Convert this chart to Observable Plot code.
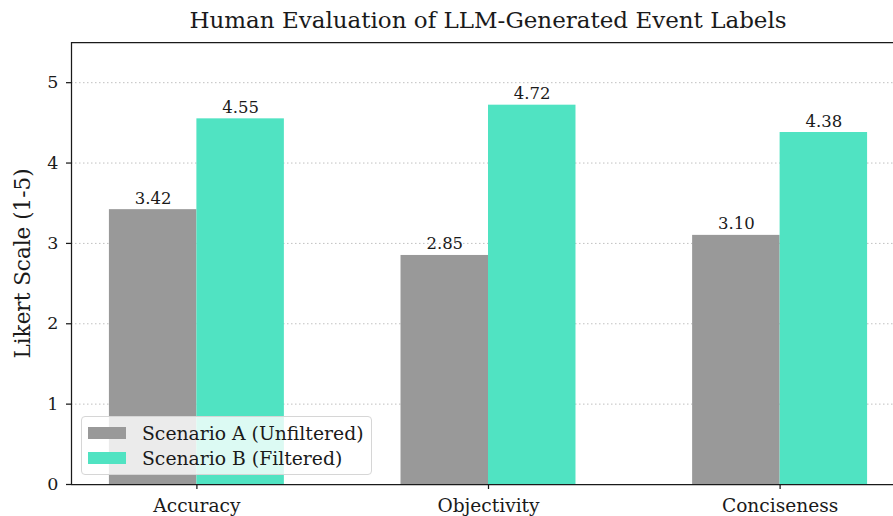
<!DOCTYPE html>
<html><head><meta charset="utf-8">
<script src="https://cdn.jsdelivr.net/npm/d3@7"></script>
<script src="https://cdn.jsdelivr.net/npm/@observablehq/plot@0.6"></script>
<style>
html,body{margin:0;padding:0;background:#fff;overflow:hidden;}
#wrap{position:relative;width:893px;height:516px;font-family:"DejaVu Serif";color:#1a1a1a;}
#title{position:absolute;left:0;width:976px;top:7px;text-align:center;font-size:23px;line-height:26px;white-space:nowrap;}
#legend{position:absolute;left:81px;top:416px;width:291px;height:59px;box-sizing:border-box;background:rgba(255,255,255,0.8);border:1px solid #d6d6d6;border-radius:4px;font-size:18.8px;}
.row{position:absolute;left:0;height:20px;display:flex;align-items:center;white-space:nowrap;}
.sw{display:inline-block;width:38px;height:12px;margin-left:6px;margin-right:16px;}
svg{position:absolute;left:0;top:0;}
</style>
</head><body>
<div id="wrap"><div id="title"></div></div>
<script>
const title = "Human Evaluation of LLM-Generated Event Labels";
const categories = ["Accuracy", "Objectivity", "Conciseness"];
const seriesNames = ["Scenario A (Unfiltered)", "Scenario B (Filtered)"];
const scenarioA = [3.42, 2.85, 3.10];
const scenarioB = [4.55, 4.72, 4.38];
const colors = ["#999999", "#50e3c2"];
const yTicks = [0, 1, 2, 3, 4, 5];
const yLabel = "Likert Scale (1-5)";

const barW = 0.3;
const rows = categories.flatMap((c, i) => [
  {i, s: 0, v: scenarioA[i]},
  {i, s: 1, v: scenarioB[i]}
]).map(d => ({...d, x1: d.i + (d.s - 1) * barW, x2: d.i + d.s * barW, series: seriesNames[d.s]}));

const xMin = -barW - 0.13, xMax = categories.length - 1 + barW + 0.13;

const chart = Plot.plot({
  width: 893, height: 516,
  marginTop: 42, marginBottom: 32, marginLeft: 71, marginRight: 0,
  x: {domain: [xMin, xMax], range: [71, 905]},
  y: {domain: [0, 5.5]},
  color: {domain: seriesNames, range: colors},
  style: {fontFamily: "DejaVu Serif", fontSize: "17px", color: "#1a1a1a", background: "transparent"},
  marks: [
    Plot.gridY(yTicks.filter(t => t > 0), {stroke: "#b0b0b0", strokeOpacity: 0.8, strokeDasharray: "1.5,2.5", strokeWidth: 1}),
    Plot.rectY(rows, {x1: "x1", x2: "x2", y: "v", fill: "series"}),
    Plot.text(rows, {x: d => (d.x1 + d.x2) / 2, y: "v", text: d => d.v.toFixed(2), lineAnchor: "bottom", dy: -6, fontSize: 16.5, fill: "#1a1a1a"}),
    Plot.axisY(yTicks, {tickSize: 5, tickPadding: 8, fontSize: 17.5, tickFormat: d => String(d), label: null, strokeWidth: 1.25}),
    Plot.axisX([0, 1, 2], {tickSize: 5, tickPadding: 9, fontSize: 18.6, tickFormat: i => categories[i], label: null, strokeWidth: 1.25}),
    Plot.ruleY([0, 5.5], {stroke: "#1a1a1a", strokeWidth: 1.25}),
    Plot.ruleX([xMin], {stroke: "#1a1a1a", strokeWidth: 1.25}),
    Plot.text([yLabel], {frameAnchor: "left", dx: -48, rotate: -90, textAnchor: "middle", lineAnchor: "middle", fontSize: 21.5, fill: "#1a1a1a"})
  ]
});
const wrap = document.getElementById("wrap");
wrap.insertBefore(chart, wrap.firstChild);
document.getElementById("title").textContent = title;

const legend = document.createElement("div");
legend.id = "legend";
seriesNames.forEach((name, k) => {
  const r = document.createElement("div");
  r.className = "row";
  r.style.top = (k === 0 ? 6 : 31) + "px";
  const sw = document.createElement("span");
  sw.className = "sw";
  sw.style.background = colors[k];
  r.appendChild(sw);
  r.appendChild(document.createTextNode(name));
  legend.appendChild(r);
});
wrap.appendChild(legend);
</script>
</body></html>
